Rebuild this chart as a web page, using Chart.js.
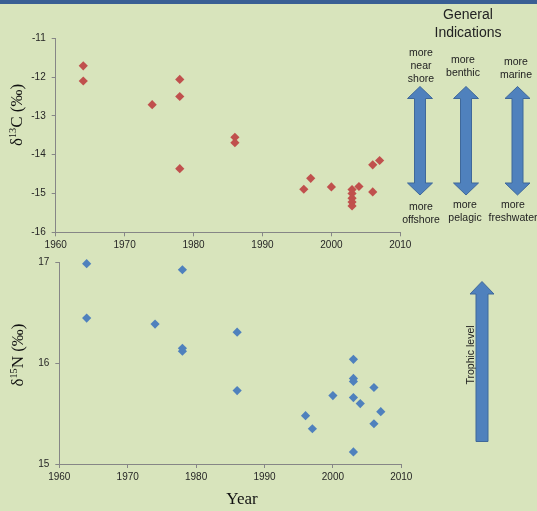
<!DOCTYPE html>
<html>
<head>
<meta charset="utf-8">
<script src="https://cdn.jsdelivr.net/npm/chart.js@4/dist/chart.umd.min.js"></script>
<style>
  html, body { margin: 0; padding: 0; }
  body { width: 537px; height: 511px; overflow: hidden; background: #D8E4BC; position: relative;
         font-family: "Liberation Sans", Arial, sans-serif; color: #1a1a1a; }
  .band { position: absolute; left: 0; top: 0; width: 537px; height: 4px; background: #3A5F94; }
  canvas { position: absolute; left: 0; }
  #carbon { top: 0; }
  #nitrogen { top: 250px; }
  .t { position: absolute; white-space: nowrap; transform: translate(-50%, -50%); text-align: center; }
  .serif { font-family: "Liberation Serif", "Times New Roman", serif; font-size: 17px; color: #111; }
  .rot { transform: translate(-50%, -50%) rotate(-90deg); }
  .note { font-size: 10.5px; line-height: 13px; color: #222; }
  .head { font-size: 14px; line-height: 17.5px; color: #222; }
  sup { font-size: 60%; vertical-align: 0.55em; line-height: 0; }
  svg { position: absolute; left: 0; top: 0; }
</style>
</head>
<body>
<div class="band"></div>
<canvas id="carbon" width="537" height="255"></canvas>
<canvas id="nitrogen" width="537" height="261"></canvas>

<svg width="537" height="511" id="arrows"></svg>

<div class="t serif rot" style="left:17px; top:115px;">δ<sup>13</sup>C (‰)</div>
<div class="t serif rot" style="left:18px; top:355px;">δ<sup>15</sup>N (‰)</div>
<div class="t serif" style="left:242px; top:499px;">Year</div>

<div class="t head" style="left:468px; top:23px;">General<br>Indications</div>
<div class="t note" style="left:421px; top:65px;">more<br>near<br>shore</div>
<div class="t note" style="left:463px; top:66px;">more<br>benthic</div>
<div class="t note" style="left:516px; top:67.5px;">more<br>marine</div>
<div class="t note" style="left:421px; top:212.5px;">more<br>offshore</div>
<div class="t note" style="left:465px; top:210.5px;">more<br>pelagic</div>
<div class="t note" style="left:513px; top:210.5px;">more<br>freshwater</div>
<div class="t note rot" style="left:470px; top:355px;">Trophic level</div>

<script>
// Sampling years and stable-isotope ratios for each specimen
const years = [1964, 1964, 1974, 1978, 1978, 1978, 1986, 1986, 1996, 1997,
               2000, 2003, 2003, 2003, 2003, 2003, 2004, 2006, 2006, 2007];
const carbon13 = [-11.71, -12.10, -12.71, -12.06, -12.50, -14.36, -13.55, -13.69, -14.89, -14.61,
                  -14.83, -14.90, -15.00, -15.12, -15.22, -15.32, -14.82, -14.96, -14.26, -14.15];
const nitrogen15 = [16.99, 16.45, 16.39, 16.93, 16.15, 16.12, 16.31, 15.73, 15.48, 15.35,
                    15.68, 16.04, 15.85, 15.82, 15.66, 15.12, 15.60, 15.76, 15.40, 15.52];

// Axis tick values
const yearTicks = [1960, 1970, 1980, 1990, 2000, 2010];
const carbonTicks = [-16, -15, -14, -13, -12, -11];
const nitrogenTicks = [15, 16, 17];

const axisColor = '#868686';
const tickColor = '#262626';
const tickFont = { family: '"Liberation Sans", Arial, sans-serif', size: 10 };

function fixedTicks(values) {
  return scale => { scale.ticks = values.map(v => ({ value: v })); };
}
const plain = v => String(v);

function buildChart(id, values, color, yTicks, opts) {
  const pts = years.map((y, i) => ({ x: y, y: values[i] }));
  return new Chart(document.getElementById(id), {
    type: 'scatter',
    data: { datasets: [{
      data: pts,
      clip: false,
      pointStyle: 'rectRot',
      pointRadius: 4.6,
      pointHoverRadius: 4.6,
      backgroundColor: color,
      borderColor: color,
      borderWidth: 0
    }] },
    options: {
      responsive: false,
      animation: false,
      events: [],
      layout: { padding: opts.padding },
      plugins: { legend: { display: false }, tooltip: { enabled: false } },
      scales: {
        x: {
          type: 'linear',
          min: yearTicks[0], max: yearTicks[yearTicks.length - 1],
          afterBuildTicks: fixedTicks(yearTicks),
          afterFit: s => { s.height = opts.xHeight; },
          grid: { drawOnChartArea: false, drawTicks: true, tickLength: 4, color: axisColor },
          border: { display: true, color: axisColor, width: 1 },
          ticks: { font: tickFont, color: tickColor, padding: 3, maxRotation: 0, callback: plain }
        },
        y: {
          type: 'linear',
          min: yTicks[0], max: yTicks[yTicks.length - 1],
          afterBuildTicks: fixedTicks(yTicks),
          afterFit: s => { s.width = opts.yWidth; },
          grid: { drawOnChartArea: false, drawTicks: true, tickLength: 4, color: axisColor },
          border: { display: true, color: axisColor, width: 1 },
          ticks: { font: tickFont, color: tickColor, padding: 6, callback: plain }
        }
      }
    }
  });
}

buildChart('carbon', carbon13, '#C0504D', carbonTicks, {
  padding: { left: 0, right: 136.7, top: 38.3, bottom: 0 },
  yWidth: 55.7, xHeight: 22.7
});
buildChart('nitrogen', nitrogen15, '#4F81BD', nitrogenTicks, {
  padding: { left: 0, right: 135.7, top: 12.7, bottom: 0 },
  yWidth: 59.3, xHeight: 47
});

// Indicator arrows beside the plots
const svg = document.getElementById('arrows');
const NS = 'http://www.w3.org/2000/svg';
function arrow(points) {
  const p = document.createElementNS(NS, 'polygon');
  p.setAttribute('points', points.map(q => q.join(',')).join(' '));
  p.setAttribute('fill', '#4F81BD');
  p.setAttribute('stroke', '#3F6899');
  p.setAttribute('stroke-width', '1');
  svg.appendChild(p);
}
function doubleArrow(cx, top, headTop, headBottom, bottom, hw, sw) {
  arrow([[cx, top], [cx + hw, headTop], [cx + sw, headTop], [cx + sw, headBottom],
         [cx + hw, headBottom], [cx, bottom], [cx - hw, headBottom], [cx - sw, headBottom],
         [cx - sw, headTop], [cx - hw, headTop]]);
}
doubleArrow(420, 86.5, 98.5, 183, 195, 12.5, 5.5);
doubleArrow(466, 86.5, 98.5, 183, 195, 12.5, 5.5);
doubleArrow(517.5, 86.5, 98.5, 183, 195, 12.5, 5.5);
arrow([[482, 281.5], [494, 294], [488, 294], [488, 441.5], [476, 441.5], [476, 294], [470, 294]]);
</script>
</body>
</html>
